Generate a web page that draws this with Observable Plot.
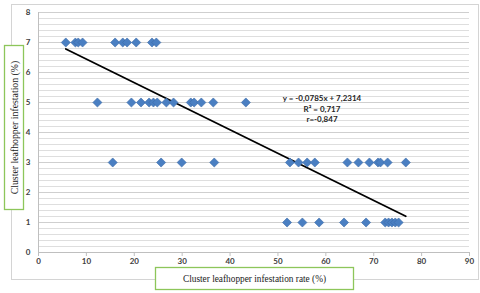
<!DOCTYPE html>
<html>
<head>
<meta charset="utf-8">
<script src="https://cdn.jsdelivr.net/npm/d3@7"></script>
<script src="https://cdn.jsdelivr.net/npm/@observablehq/plot@0.6"></script>
<style>
  html, body { margin: 0; padding: 0; background: #fff; }
  svg { display: block; }
</style>
</head>
<body>
<div id="chart"></div>
<script>
// Cluster leafhopper infestation rate (%) for each infestation level (%)
const levels = [7, 5, 3, 1];
const rateAt7 = [5.7, 7.7, 8.3, 9.2, 16.0, 17.6, 18.5, 20.4, 23.7, 24.6];
const rateAt5 = [12.3, 19.4, 21.4, 23.1, 24.0, 24.8, 26.7, 28.2, 31.8, 32.5, 34.0, 36.5, 43.3];
const rateAt3 = [15.5, 25.6, 29.9, 36.7, 52.5, 54.3, 56.1, 57.7, 64.5, 66.8, 69.1, 70.9, 71.4, 72.9, 76.7];
const rateAt1 = [51.9, 55.1, 58.6, 63.8, 68.4, 72.4, 73.1, 73.8, 74.5, 75.2];

const xTicks = [0, 10, 20, 30, 40, 50, 60, 70, 80, 90];
const yTicks = [0, 1, 2, 3, 4, 5, 6, 7, 8];

const slope = -0.0785;
const intercept = 7.2314;
const equationLines = ["y = -0,0785x + 7,2314", "R² = 0,717", "r=-0,847"];
const xTitle = "Cluster leafhopper infestation rate (%)";
const yTitle = "Cluster leafhopper infestation (%)";

const rows = [rateAt7, rateAt5, rateAt3, rateAt1];
const points = rows.flatMap((rates, i) => rates.map(r => ({rate: r, level: levels[i]})));
const allRates = points.map(d => d.rate);
const xMin = d3.min(allRates), xMax = d3.max(allRates);
const trend = [xMin, xMax].map(x => ({rate: x, level: intercept + slope * x}));

const W = 480, H = 293;
const tickFont = "Lato, 'Open Sans', sans-serif";

const svg = Plot.plot({
  width: W,
  height: H,
  marginLeft: 38,
  marginRight: 11,
  marginTop: 12,
  marginBottom: 41,
  style: {background: "transparent", fontFamily: tickFont, fontSize: "8px", fontWeight: "bold", color: "#404040"},
  x: {domain: [0, 90], ticks: xTicks, label: null},
  y: {domain: [0, 8], ticks: yTicks, label: null},
  marks: [
    Plot.ruleY(d3.range(0, 8.001, 0.2).map(v => Math.round(v * 10) / 10), {stroke: "#dedede", strokeWidth: 1}),
    Plot.ruleY(yTicks, {stroke: "#cfcfcf", strokeWidth: 1}),
    Plot.ruleX([0], {stroke: "#bfbfbf"}),
    Plot.ruleY([0], {stroke: "#bfbfbf"}),
    Plot.axisX({ticks: xTicks, tickSize: 4, tickPadding: 2, stroke: "#bfbfbf", fill: "#404040", fontWeight: "bold", label: null}),
    Plot.axisY({ticks: yTicks, tickSize: 0, tickPadding: 8, fill: "#404040", fontWeight: "bold", label: null}),
    Plot.line(trend, {x: "rate", y: "level", stroke: "#000", strokeWidth: 1.8}),
    Plot.dot(points, {x: "rate", y: "level", symbol: "diamond2", r: 4.1, fill: "#4a7fc2", stroke: "#3b6aa6", strokeWidth: 0.6}),
    Plot.text([equationLines.join("\n")], {x: 59.2, y: 4.8, fontSize: 8, fontWeight: "bold", fill: "#262626", lineHeight: 1.3, textAnchor: "middle"})
  ]
});

const s = d3.select(svg);
// outer chart frame, drawn behind everything
s.insert("rect", ":first-child")
  .attr("x", 11.5).attr("y", 4.5).attr("width", 467).attr("height", 275)
  .attr("fill", "none").attr("stroke", "#d4d4d4").attr("stroke-width", 1);

// y-axis title box
const yb = s.append("g");
yb.append("rect").attr("x", 4.5).attr("y", 45.5).attr("width", 19).attr("height", 164)
  .attr("fill", "#fff").attr("stroke", "#8dc65a").attr("stroke-width", 1.3);
yb.append("text").text(yTitle)
  .attr("transform", "translate(17.5,127.5) rotate(-90)")
  .attr("text-anchor", "middle")
  .attr("font-family", "'Liberation Serif', 'DejaVu Serif', serif")
  .attr("font-size", 9.8).attr("font-weight", "normal").attr("fill", "#1a1a1a");

// x-axis title box
const xb = s.append("g");
xb.append("rect").attr("x", 155.5).attr("y", 267.5).attr("width", 198).attr("height", 22)
  .attr("fill", "#fff").attr("stroke", "#8dc65a").attr("stroke-width", 1.3);
xb.append("text").text(xTitle)
  .attr("x", 254.5).attr("y", 282)
  .attr("text-anchor", "middle")
  .attr("font-family", "'Liberation Serif', 'DejaVu Serif', serif")
  .attr("font-size", 9.3).attr("font-weight", "normal").attr("fill", "#1a1a1a");

document.getElementById("chart").appendChild(svg);
</script>
</body>
</html>
